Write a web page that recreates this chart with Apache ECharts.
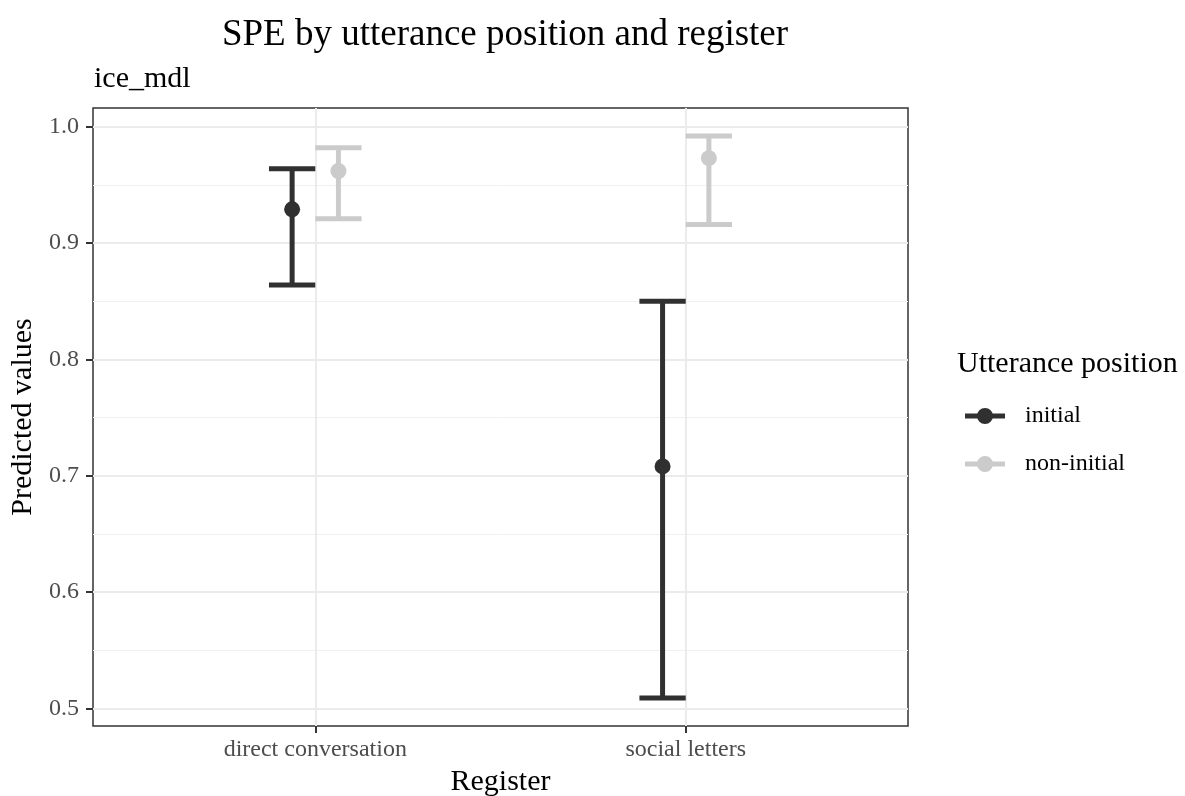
<!DOCTYPE html>
<html>
<head>
<meta charset="utf-8">
<title>SPE by utterance position and register</title>
<script src="https://cdn.jsdelivr.net/npm/echarts@6/dist/echarts.min.js"></script>
<style>
  html, body { margin: 0; padding: 0; background: #ffffff; }
  #chart { width: 1185px; height: 796px; }
</style>
</head>
<body>
<div id="chart"></div>
<script>
// Registers on the x axis
const categories = ['direct conversation', 'social letters'];

// Predicted values with confidence limits, per utterance position
const initialEst = [0.929, 0.708];
const initialLow = [0.864, 0.509];
const initialHigh = [0.964, 0.850];

const nonInitialEst = [0.962, 0.973];
const nonInitialLow = [0.921, 0.916];
const nonInitialHigh = [0.982, 0.992];

const groupNames = ['initial', 'non-initial'];
const yTicks = [0.5, 0.6, 0.7, 0.8, 0.9, 1.0];
const yMinorTicks = [0.55, 0.65, 0.75, 0.85, 0.95];

const colors = { 'initial': '#303030', 'non-initial': '#cbcbcb' };
const FONT = '"Liberation Serif", "DejaVu Serif", serif';

// Dodge offset and error-bar cap half-width, in axis units
const DODGE = 0.0625;
const CAP = 0.0625;

// Discrete axis: positions 1..n, with 0.6 units of padding on each side
const xMin = 0.4;
const xMax = categories.length + 0.6;

// Continuous axis: 5% padding around the plotted range
const allLow = initialLow.concat(nonInitialLow, initialEst, nonInitialEst);
const allHigh = initialHigh.concat(nonInitialHigh, initialEst, nonInitialEst);
const lo = Math.min.apply(null, allLow);
const hi = Math.max.apply(null, allHigh);
const yMin = lo - 0.05 * (hi - lo);
const yMax = hi + 0.05 * (hi - lo);

function rows(est, low, high, offset) {
  return categories.map((c, i) => [i + 1 + offset, est[i], low[i], high[i]]);
}
const initialRows = rows(initialEst, initialLow, initialHigh, -DODGE);
const nonInitialRows = rows(nonInitialEst, nonInitialLow, nonInitialHigh, DODGE);

function errorBarRender(color) {
  return function (params, api) {
    const x = api.value(0);
    const low = api.value(2);
    const high = api.value(3);
    const top = api.coord([x, high]);
    const bot = api.coord([x, low]);
    const left = api.coord([x - CAP, high])[0];
    const right = api.coord([x + CAP, high])[0];
    const style = { stroke: color, lineWidth: 5, lineCap: 'butt' };
    return {
      type: 'group',
      children: [
        { type: 'line', shape: { x1: top[0], y1: top[1], x2: bot[0], y2: bot[1] }, style: style },
        { type: 'line', shape: { x1: left, y1: top[1], x2: right, y2: top[1] }, style: style },
        { type: 'line', shape: { x1: left, y1: bot[1], x2: right, y2: bot[1] }, style: style }
      ]
    };
  };
}

// Legend key: a short thick line with a dot in the middle (extra width leaves room before the label)
const keyIcon = 'path://M0,5.5h40v5h-40z M28,8a8,8 0 1,1 -16,0a8,8 0 1,1 16,0z M55,8';

const chart = echarts.init(document.getElementById('chart'), null, { renderer: 'canvas' });

chart.setOption({
  animation: false,
  backgroundColor: '#ffffff',
  title: [
    {
      text: 'SPE by utterance position and register',
      left: 500,
      textAlign: 'center',
      top: 12,
      textStyle: { fontFamily: FONT, fontSize: 37, fontWeight: 'normal', color: '#000000' }
    },
    {
      text: 'ice_mdl',
      left: 89,
      top: 59,
      textStyle: { fontFamily: FONT, fontSize: 30, fontWeight: 'normal', color: '#000000' }
    },
    {
      text: 'Utterance position',
      left: 952,
      top: 344,
      textStyle: { fontFamily: FONT, fontSize: 30, fontWeight: 'normal', color: '#000000' }
    }
  ],
  legend: {
    orient: 'vertical',
    left: 960,
    top: 399,
    itemWidth: 55,
    itemHeight: 16,
    itemGap: 24,
    selectedMode: false,
    textStyle: { fontFamily: FONT, fontSize: 24, color: '#000000' },
    data: groupNames.map(n => ({ name: n, icon: keyIcon, itemStyle: { color: colors[n] } }))
  },
  grid: {
    left: 93,
    right: 277,
    top: 108,
    bottom: 70,
    outerBoundsMode: 'none',
    containLabel: false,
    show: true,
    borderColor: '#333333',
    borderWidth: 1.5,
    backgroundColor: '#ffffff'
  },
  xAxis: {
    type: 'value',
    min: xMin,
    max: xMax,
    name: 'Register',
    nameLocation: 'middle',
    nameGap: 33,
    nameTextStyle: { fontFamily: FONT, fontSize: 30, color: '#000000' },
    axisLine: { show: false },
    axisTick: {
      show: true,
      length: 7,
      customValues: categories.map((c, i) => i + 1),
      lineStyle: { color: '#333333', width: 2 }
    },
    axisLabel: {
      customValues: categories.map((c, i) => i + 1),
      margin: 12,
      fontFamily: FONT,
      fontSize: 24,
      color: '#4d4d4d',
      formatter: v => categories[Math.round(v) - 1] || ''
    },
    splitLine: { show: true, lineStyle: { color: '#ebebeb', width: 2 } }
  },
  yAxis: [
    {
      type: 'value',
      min: yMin,
      max: yMax,
      name: 'Predicted values',
      nameLocation: 'middle',
      nameRotate: 90,
      nameGap: 53,
      nameTextStyle: { fontFamily: FONT, fontSize: 30, color: '#000000' },
      axisLine: { show: false },
      axisTick: {
        show: true,
        length: 7,
        customValues: yTicks,
        lineStyle: { color: '#333333', width: 2 }
      },
      axisLabel: {
        customValues: yTicks,
        margin: 14,
        fontFamily: FONT,
        fontSize: 24,
        color: '#4d4d4d',
        formatter: v => v.toFixed(1)
      },
      splitLine: { show: true, lineStyle: { color: '#ebebeb', width: 2 } },
      z: 1
    },
    {
      type: 'value',
      min: yMin,
      max: yMax,
      axisLine: { show: false },
      axisTick: { show: false, customValues: yMinorTicks },
      axisLabel: { show: false, customValues: yMinorTicks },
      splitLine: { show: true, lineStyle: { color: '#f0f0f0', width: 1 } },
      z: 0
    }
  ],
  series: [
    {
      name: 'initial',
      type: 'custom',
      renderItem: errorBarRender(colors['initial']),
      data: initialRows,
      encode: { x: 0, y: [1, 2, 3] },
      itemStyle: { color: colors['initial'] },
      z: 3
    },
    {
      name: 'non-initial',
      type: 'custom',
      renderItem: errorBarRender(colors['non-initial']),
      data: nonInitialRows,
      encode: { x: 0, y: [1, 2, 3] },
      itemStyle: { color: colors['non-initial'] },
      z: 3
    },
    {
      name: 'initial',
      type: 'scatter',
      data: initialRows,
      encode: { x: 0, y: 1 },
      symbol: 'circle',
      symbolSize: 16,
      itemStyle: { color: colors['initial'], opacity: 1 },
      z: 4
    },
    {
      name: 'non-initial',
      type: 'scatter',
      data: nonInitialRows,
      encode: { x: 0, y: 1 },
      symbol: 'circle',
      symbolSize: 16,
      itemStyle: { color: colors['non-initial'], opacity: 1 },
      z: 4
    }
  ]
});
</script>
</body>
</html>
